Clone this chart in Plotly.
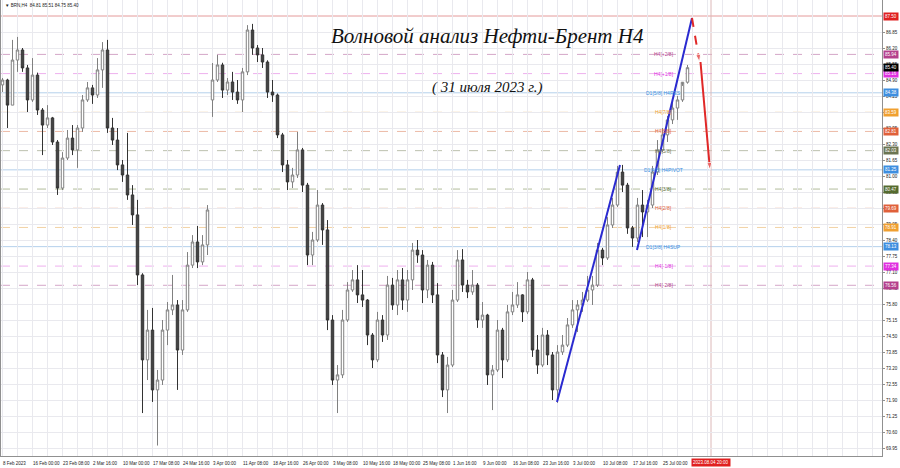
import plotly.graph_objects as go

# ---- H4 price data (each entry aggregates a short run of H4 bars) ----
opens = [84.70, 84.90, 83.88, 85.71, 86.12, 85.39, 84.09, 85.10, 83.68, 83.07,
         83.36, 82.38, 80.51, 81.73, 82.54, 82.06, 82.95, 84.09, 84.58, 84.29,
         85.31, 86.12, 82.95, 82.46, 81.45, 81.04, 80.23, 79.42, 76.98, 73.53,
         74.74, 72.31, 72.71, 74.74, 75.56, 75.76, 73.93, 75.56, 77.38, 78.32,
         77.51, 78.20, 84.09, 84.90, 85.51, 84.49, 84.82, 84.41, 84.09, 85.23,
         86.93, 86.20, 85.92, 85.63, 84.41, 84.29, 82.67, 81.45, 80.76, 81.04,
         82.06, 80.63, 77.79, 78.40, 79.82, 78.81, 75.15, 72.71, 72.92, 75.15,
         76.37, 76.78, 76.17, 75.96, 74.54, 73.53, 75.15, 74.54, 76.57, 75.76,
         76.78, 75.96, 76.78, 77.99, 77.79, 76.37, 77.38, 76.17, 73.73, 72.31,
         73.32, 75.96, 77.59, 76.57, 76.29, 76.57, 75.15, 75.35, 72.92, 73.12,
         74.74, 73.53, 75.48, 75.76, 76.17, 75.48, 76.78, 73.93, 73.32, 74.54,
         73.73, 72.31, 73.85, 74.13, 74.95, 75.56, 75.76, 75.96, 76.37, 76.57,
         77.99, 77.67, 79.01, 79.82, 81.16, 80.63, 78.89, 78.48, 79.82, 79.54,
         79.82, 81.16, 82.06, 82.67, 83.28, 83.76, 84.09, 84.81]
highs = [84.98, 84.95, 86.53, 86.65, 86.20, 85.51, 85.79, 85.20, 83.76, 83.88,
         83.40, 82.46, 81.97, 82.87, 83.07, 83.07, 84.29, 84.82, 84.70, 85.79,
         86.44, 86.53, 83.36, 82.95, 81.65, 82.75, 80.63, 80.03, 77.05, 75.56,
         75.64, 73.12, 75.15, 75.88, 76.98, 75.96, 75.96, 77.91, 78.60, 78.97,
         78.60, 79.82, 85.59, 85.92, 85.60, 84.98, 85.23, 84.90, 85.39, 87.13,
         87.18, 86.32, 86.20, 85.70, 84.90, 84.35, 82.75, 81.65, 81.33, 82.79,
         82.14, 80.72, 78.73, 80.43, 79.90, 79.21, 75.35, 73.32, 75.56, 76.69,
         77.18, 77.38, 77.18, 76.00, 74.62, 75.48, 75.35, 76.94, 76.86, 77.18,
         77.26, 77.18, 78.28, 78.40, 77.99, 77.59, 77.51, 76.65, 73.85, 73.65,
         76.37, 77.99, 78.03, 76.78, 77.18, 76.65, 75.88, 75.40, 73.32, 75.15,
         74.83, 75.76, 76.29, 76.69, 76.20, 77.10, 76.86, 74.54, 74.83, 74.74,
         73.85, 74.13, 74.54, 75.23, 75.96, 75.96, 76.29, 76.94, 76.94, 78.28,
         78.08, 79.33, 80.11, 81.41, 81.45, 80.72, 78.97, 80.11, 80.43, 80.03,
         81.41, 82.46, 82.95, 83.44, 84.01, 84.25, 84.66, 85.51]
lows = [84.41, 82.95, 83.88, 85.23, 85.23, 83.60, 84.01, 83.48, 81.85, 82.95,
        82.26, 80.23, 80.43, 81.65, 81.85, 81.33, 82.79, 84.01, 83.93, 84.17,
        84.58, 82.75, 82.26, 81.24, 80.76, 80.03, 79.01, 76.57, 71.37, 72.71,
        71.82, 70.05, 72.51, 74.13, 75.35, 72.31, 73.73, 75.48, 77.26, 77.26,
        77.38, 77.79, 83.40, 84.82, 84.17, 84.29, 84.09, 83.93, 83.60, 85.10,
        85.92, 85.63, 85.39, 84.17, 84.01, 82.54, 81.16, 80.43, 80.51, 80.92,
        80.35, 77.38, 77.38, 78.32, 78.20, 74.74, 72.51, 71.37, 72.79, 75.07,
        76.29, 75.84, 75.68, 74.13, 73.20, 73.44, 74.26, 74.34, 75.56, 75.35,
        75.56, 75.48, 76.37, 77.47, 75.84, 76.04, 75.84, 73.40, 72.02, 71.37,
        73.24, 75.88, 76.29, 76.04, 76.17, 74.83, 74.83, 72.51, 71.49, 73.04,
        72.79, 73.44, 75.35, 75.64, 75.07, 75.39, 73.65, 72.96, 73.24, 73.32,
        71.90, 71.78, 73.73, 74.05, 74.83, 74.66, 75.48, 75.88, 75.76, 76.49,
        77.38, 77.59, 78.89, 79.74, 80.35, 78.65, 78.12, 78.32, 78.52, 78.52,
        79.70, 81.04, 81.97, 82.38, 83.11, 83.28, 84.01, 84.75]
closes = [84.90, 83.88, 85.71, 86.12, 85.39, 84.09, 85.10, 83.68, 83.07, 83.36,
          82.38, 80.51, 81.73, 82.54, 82.06, 82.95, 84.09, 84.58, 84.29, 85.31,
          86.12, 82.95, 82.46, 81.45, 81.04, 80.23, 79.42, 76.98, 73.53, 74.74,
          72.31, 72.71, 74.74, 75.56, 75.76, 73.93, 75.56, 77.38, 78.32, 77.51,
          78.20, 79.62, 84.90, 85.51, 84.49, 84.82, 84.41, 84.09, 85.23, 86.93,
          86.20, 85.92, 85.63, 84.41, 84.29, 82.67, 81.45, 80.76, 81.04, 82.06,
          80.63, 77.79, 78.40, 79.82, 78.81, 75.15, 72.71, 72.92, 75.15, 76.37,
          76.78, 76.17, 75.96, 74.54, 73.53, 75.15, 74.54, 76.57, 75.76, 76.78,
          75.96, 76.78, 77.99, 77.79, 76.37, 77.38, 76.17, 73.73, 72.31, 73.32,
          75.96, 77.59, 76.57, 76.29, 76.57, 75.15, 75.35, 72.92, 73.12, 74.74,
          73.53, 75.48, 75.76, 76.17, 75.48, 76.78, 73.93, 73.32, 74.54, 73.73,
          72.31, 73.85, 74.13, 74.95, 75.56, 75.76, 75.96, 76.37, 76.57, 77.99,
          77.67, 79.01, 79.82, 81.16, 80.63, 78.89, 78.48, 79.82, 79.54, 79.82,
          81.16, 82.06, 82.67, 83.28, 83.76, 84.09, 84.81, 85.40]
bars = list(range(len(closes)))

# time axis labels (every 6 bars)
time_labels = ["8 Feb 2023", "16 Feb 00:00", "23 Feb 08:00", "2 Mar 16:00", "10 Mar 00:00",
               "17 Mar 08:00", "24 Mar 16:00", "3 Apr 00:00", "11 Apr 08:00", "18 Apr 16:00",
               "26 Apr 00:00", "3 May 08:00", "10 May 16:00", "18 May 00:00", "25 May 08:00",
               "1 Jun 16:00", "9 Jun 00:00", "16 Jun 08:00", "23 Jun 16:00", "3 Jul 00:00",
               "10 Jul 08:00", "17 Jul 16:00", "25 Jul 00:00"]
time_label_step = 6
future_bar = 141.7
future_label = "2023.08.04 20:00"

price_ticks = [69.95, 70.60, 71.25, 71.90, 72.55, 73.20, 73.85, 74.50, 75.15, 75.80,
               76.45, 77.10, 77.75, 78.40, 79.05, 79.70, 80.35, 81.00, 81.65, 82.30,
               82.95, 83.60, 84.25, 84.90, 85.55, 86.20, 86.85]

# Murray levels
level_prices = [85.94, 85.16, 84.38, 83.59, 82.81, 82.03, 81.25, 80.47, 79.69, 78.91, 78.13, 77.34, 76.56]
level_names = ["H4[+2/8]", "H4[+1/8]", "D1[5/8] H4RES", "H4[7/8]", "H4[6/8]", "H4[5/8]",
               "D1[4/8] H4PIVOT", "H4[3/8]", "H4[2/8]", "H4[1/8]", "D1[3/8] H4SUP", "H4[-1/8]", "H4[-2/8]"]
level_colors = ["#b4408c", "#e030e0", "#3d8ee0", "#f0a030", "#e0603a", "#6b7552",
                "#3d8ee0", "#556b2f", "#e0603a", "#f0a030", "#3d8ee0", "#e030e0", "#b4408c"]
level_line_colors = ["#d4a6c8", "#eeb0ee", "#b4d0ec", "#f2d2a4", "#ecbaa6", "#bcc0ae",
                     "#b4d0ec", "#b2bc9c", "#ecbaa6", "#f2d2a4", "#b4d0ec", "#eeb0ee", "#d4a6c8"]
level_solid = [False, False, True, False, False, False, True, False, False, False, True, False, False]
target_price = 87.50
last_price = 85.40

# wave drawing
wave_a_bars, wave_a_prices = [110.9, 123.5], [71.82, 81.45]
wave_b_bars, wave_b_prices = [126.9, 137.9], [77.99, 87.42]
proj_1_bars, proj_1_prices = [137.9, 139.4], [87.42, 85.63]
proj_2_bars, proj_2_prices = [139.6, 141.5], [85.63, 81.24]

FONT = "Liberation Sans"

fig = go.Figure()

fig.add_trace(go.Candlestick(
    x=bars, open=opens, high=highs, low=lows, close=closes,
    increasing=dict(line=dict(color="#808080", width=1), fillcolor="#ffffff"),
    decreasing=dict(line=dict(color="#333333", width=1), fillcolor="#444444"),
    whiskerwidth=0, hoverinfo="skip", showlegend=False))

for bx, py in [(wave_a_bars, wave_a_prices), (wave_b_bars, wave_b_prices)]:
    fig.add_trace(go.Scatter(x=bx, y=py, mode="lines", line=dict(color="#2a2ad0", width=2),
                             hoverinfo="skip", showlegend=False))

fig.add_trace(go.Scatter(x=proj_1_bars, y=proj_1_prices, mode="lines+markers",
                         line=dict(color="#e02828", width=2, dash="dash"),
                         marker=dict(symbol="arrow", angleref="previous", size=[0, 8], color="#e02828"),
                         hoverinfo="skip", showlegend=False))
fig.add_trace(go.Scatter(x=proj_2_bars, y=proj_2_prices, mode="lines+markers",
                         line=dict(color="#e02828", width=2),
                         marker=dict(symbol="arrow", angleref="previous", size=[0, 8], color="#e02828"),
                         hoverinfo="skip", showlegend=False))

shapes = []
annotations = []

# horizontal levels
for p, name, c, lc, solid in zip(level_prices, level_names, level_colors, level_line_colors, level_solid):
    shapes.append(dict(type="line", xref="paper", x0=0, x1=1, yref="y", y0=p, y1=p, layer="below",
                       line=dict(color=lc, width=1, dash="solid" if solid else "dash")))
    annotations.append(dict(x=132.2, y=p, xref="x", yref="y", text=name, showarrow=False,
                            font=dict(family=FONT, size=5, color=c), xanchor="center", yanchor="middle"))
    annotations.append(dict(x=1, y=p, xref="paper", yref="y", text=f"{p:.2f}", showarrow=False,
                            font=dict(family=FONT, size=4.5, color="white"), bgcolor=c, borderpad=1,
                            xanchor="left", yanchor="middle", xshift=1))

shapes.append(dict(type="line", xref="paper", x0=0, x1=1, yref="y", y0=target_price, y1=target_price,
                   layer="below", line=dict(color="#e49a9a", width=1)))
annotations.append(dict(x=1, y=target_price, xref="paper", yref="y", text=f"{target_price:.2f}",
                        showarrow=False, font=dict(family=FONT, size=4.5, color="white"), bgcolor="#e02020",
                        borderpad=1, xanchor="left", yanchor="middle", xshift=1))
annotations.append(dict(x=1, y=last_price, xref="paper", yref="y", text=f"{last_price:.2f}",
                        showarrow=False, font=dict(family=FONT, size=4.5, color="white"), bgcolor="#000000",
                        borderpad=1, xanchor="left", yanchor="middle", xshift=1))

# future vertical line
shapes.append(dict(type="line", xref="x", x0=future_bar, x1=future_bar, yref="paper", y0=0, y1=1,
                   layer="below", line=dict(color="#dcb8b8", width=1)))
annotations.append(dict(x=future_bar, y=0, xref="x", yref="paper", text=future_label, showarrow=False,
                        font=dict(family=FONT, size=4.5, color="white"), bgcolor="#e02020", borderpad=1,
                        xanchor="center", yanchor="top", yshift=-2))

# time labels
for i, lab in enumerate(time_labels):
    annotations.append(dict(x=i * time_label_step, y=0, xref="x", yref="paper", text=lab, showarrow=False,
                            font=dict(family=FONT, size=4.5, color="#222"), xanchor="left", yanchor="top",
                            yshift=-3, xshift=-2))

# header and titles
annotations.append(dict(x=0.002, y=0.989, xref="paper", yref="paper",
                        text="▼ BRN,H4  84.81 85.51 84.75 85.40", showarrow=False,
                        font=dict(family=FONT, size=4.5, color="#222"), xanchor="left", yanchor="middle"))
annotations.append(dict(x=0.552, y=0.921, xref="paper", yref="paper",
                        text="<i>Волновой анализ Нефти-Брент H4</i>", showarrow=False,
                        font=dict(family="Liberation Serif", size=21, color="#111"),
                        xanchor="center", yanchor="middle"))
annotations.append(dict(x=0.552, y=0.809, xref="paper", yref="paper",
                        text="<i>( 31 июля 2023 г.)</i>", showarrow=False,
                        font=dict(family="Liberation Serif", size=15, color="#111"),
                        xanchor="center", yanchor="middle"))

fig.update_layout(
    width=900, height=468, autosize=False,
    margin=dict(l=1, r=18, t=0, b=12),
    paper_bgcolor="white", plot_bgcolor="white",
    shapes=shapes, annotations=annotations,
    xaxis=dict(range=[-0.3, 175.9], rangeslider=dict(visible=False), showticklabels=False,
               tick0=0, dtick=3, showgrid=True, gridcolor="#e9e9ee", gridwidth=1,
               zeroline=False, showline=True, linecolor="#909090", linewidth=1, ticks=""),
    yaxis=dict(side="right", range=[69.625, 88.15], tickvals=price_ticks,
               ticktext=[f"{v:.2f}" for v in price_ticks],
               tickfont=dict(family=FONT, size=4.5, color="#222"),
               showgrid=True, gridcolor="#e9e9ee", gridwidth=1, zeroline=False,
               showline=True, linecolor="#909090", linewidth=1, mirror=True,
               ticks="outside", ticklen=2, tickcolor="#909090"),
)

fig.write_html("out.html", config={"displayModeBar": False},
               post_script="document.body.style.margin='0';document.body.style.overflow='hidden';")
